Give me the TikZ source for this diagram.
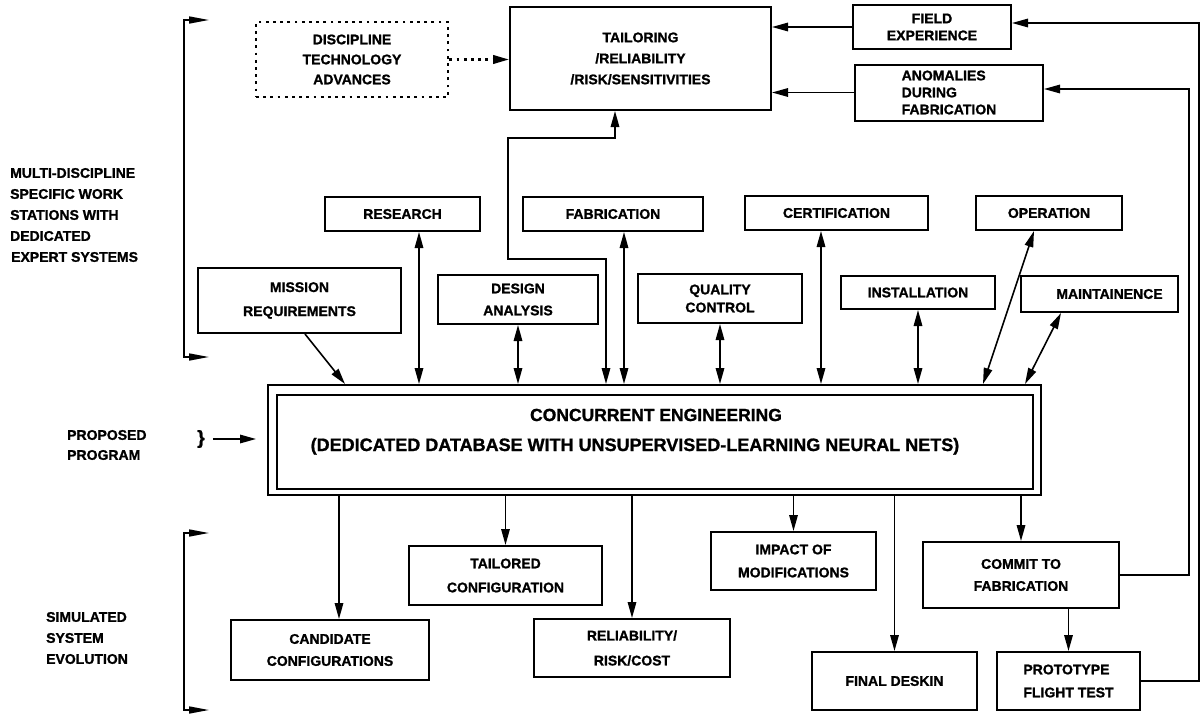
\documentclass[tikz,border=0pt]{standalone}
\usepackage{fontspec}
\setmainfont{Liberation Sans}[BoldFeatures={FakeBold=1.2}]
\usetikzlibrary{arrows.meta}

\tikzset{
  box/.style={draw, line width=2pt, align=center, inner sep=0pt,
    font=\bfseries\fontsize{14}{22}\selectfont},
  sz/.style 2 args={minimum width=#1pt, minimum height=#2pt},
  fs/.style={font=\bfseries\fontsize{14}{#1}\selectfont},
  lbl/.style={align=left, inner sep=0pt, font=\bfseries\fontsize{14}{21}\selectfont},
  cetext/.style={anchor=base, inner sep=0pt, font=\bfseries\fontsize{#1}{20}\selectfont},
  dotbox/.style={line width=2.8pt, dash pattern=on 2.8pt off 4.4pt},
  arr/.style={line width=1.6pt, -{Triangle[length=16pt,width=8.5pt]}},
  dbl/.style={line width=1.6pt, {Triangle[length=16pt,width=8.5pt]}-{Triangle[length=16pt,width=8.5pt]}},
  brk/.style={line width=1.6pt, {Triangle[length=20pt,width=7pt]}-{Triangle[length=20pt,width=7pt]}}
}

\begin{document}
\begin{tikzpicture}[x=1pt, y=-1pt]
  \useasboundingbox (0,0) rectangle (1202,715);

  % side labels and brackets
  \node[lbl, anchor=west] (multi) at (10,215) {MULTI-DISCIPLINE\\SPECIFIC WORK\\STATIONS WITH\\DEDICATED\\\hspace{1pt}EXPERT SYSTEMS};
  \node[lbl, anchor=west, fs=20] (prop) at (67,445) {PROPOSED\\PROGRAM};
  \node[lbl, anchor=west] (simul) at (46,638) {SIMULATED\\SYSTEM\\EVOLUTION};
  \node[inner sep=0pt, font=\bfseries\fontsize{19}{19}\selectfont] (brace) at (201,439) {\}};
  \coordinate (pin) at (256,439);
  \draw[arr] ([xshift=8pt]brace.east) -- (pin);
  \draw[brk] (209,20) -- (184,20) -- (184,357) -- (209,357);
  \draw[brk] (209,533) -- (184,533) -- (184,710) -- (209,710);

  % top boxes
  \node[box, dotbox, sz={192}{75}, fs=20] (disc) at (352,59.5) {DISCIPLINE\\TECHNOLOGY\\ADVANCES};
  \node[box, sz={261}{103}, fs=21] (tailor) at (640.5,58.5) {TAILORING\\/RELIABILITY\\/RISK/SENSITIVITIES};
  \node[box, sz={158}{44}, fs=17] (field) at (932,27) {FIELD\\EXPERIENCE};
  \node[box, sz={188}{56}, fs=17, align=left] (anomal) at (949,92.5) {ANOMALIES\\DURING\\FABRICATION};

  % work stations
  \node[box, sz={155}{34}] (research) at (402.5,214) {RESEARCH};
  \node[box, sz={180}{34}] (fabric) at (613,214) {FABRICATION};
  \node[box, sz={183}{34}] (certif) at (836.5,213) {CERTIFICATION};
  \node[box, sz={146}{34}] (operat) at (1049,213) {OPERATION};
  \node[box, sz={203}{65}, fs=24] (mission) at (299.5,300.5) {MISSION\\REQUIREMENTS};
  \node[box, sz={160}{49}] (design) at (518,299.5) {DESIGN\\ANALYSIS};
  \node[box, sz={164}{49}, fs=18] (quality) at (720,298.5) {QUALITY\\CONTROL};
  \node[box, sz={154}{33}] (install) at (918,292.5) {INSTALLATION};
  \node[box, sz={157}{36}] (maint) at (1099.5,294) {\hspace{20pt}MAINTAINENCE};

  % proposed program
  \node[box, sz={773}{110}] (ce) at (654.5,440) {};
  \draw[line width=2pt] ([shift={(10pt,-11pt)}]ce.north west) rectangle ([shift={(-9pt,7pt)}]ce.south east);
  \node[cetext=17.5] (cetitle) at (656,421) {CONCURRENT ENGINEERING};
  \node[cetext=18] (cesub) at (635,451) {(DEDICATED DATABASE WITH UNSUPERVISED-LEARNING NEURAL NETS)};

  % simulated evolution
  \node[box, sz={198}{60}] (candid) at (330,650) {CANDIDATE\\CONFIGURATIONS};
  \node[box, sz={193}{59}, fs=24] (tailcfg) at (505.5,575.5) {TAILORED\\CONFIGURATION};
  \node[box, sz={196}{58}, fs=25] (reliab) at (632,648) {RELIABILITY/\\RISK/COST};
  \node[box, sz={165}{58}, fs=23] (impact) at (793.5,561) {IMPACT OF\\MODIFICATIONS};
  \node[box, sz={196}{66}] (commit) at (1021,575) {COMMIT TO\\FABRICATION};
  \node[box, sz={165}{58}] (final) at (894.5,681) {FINAL DESKIN};
  \node[box, sz={143}{58}, fs=23, align=left] (proto) at (1068.5,681) {PROTOTYPE\\FLIGHT TEST};

  % feedback into tailoring
  \draw[arr, dotbox, line width=2.4pt] (disc.east) -- (disc.east -| tailor.west);
  \draw[arr] (field.west) -- (field.west -| tailor.east);
  \draw[arr] (anomal.west) -- (anomal.west -| tailor.east);
  \coordinate (fbk1) at (1199,23);
  \coordinate (fbk2) at (1189,89);
  \draw[arr] (proto.east) -| (fbk1) -- ([yshift=4pt]field.east);
  \draw[arr] (commit.east) -| (fbk2) -- ([yshift=3.5pt]anomal.east);
  \coordinate (jogA) at (508,259);
  \coordinate (jogB) at (615,138);
  \draw[dbl] ([xshift=-25.5pt]tailor.south) -- (jogB) -| (jogA) -| ([xshift=-48.5pt]ce.north);

  % stations to database
  \draw[arr] ([xshift=5.5pt]mission.south) -- ([xshift=78pt]ce.north west);
  \draw[dbl] ([xshift=16.5pt]research.south) -- ([xshift=16.5pt]research.south |- ce.north);
  \draw[dbl] (design.south) -- (design.south |- ce.north);
  \draw[dbl] ([xshift=11pt]fabric.south) -- ([xshift=11pt]fabric.south |- ce.north);
  \draw[dbl] (quality.south) -- (quality.south |- ce.north);
  \draw[dbl] ([xshift=-15.5pt]certif.south) -- ([xshift=-15.5pt]certif.south |- ce.north);
  \draw[dbl] (install.south) -- (install.south |- ce.north);
  \draw[dbl] ([xshift=-15pt]operat.south) -- ([xshift=-59pt]ce.north east);
  \draw[dbl] ([xshift=-38.5pt]maint.south) -- ([xshift=-17pt]ce.north east);

  % database to outputs
  \draw[arr] ([xshift=9pt]candid.north |- ce.south) -- ([xshift=9pt]candid.north);
  \draw[arr] (ce.south -| tailcfg.north) -- (tailcfg.north);
  \draw[arr] (ce.south -| reliab.north) -- (reliab.north);
  \draw[arr] (ce.south -| impact.north) -- (impact.north);
  \draw[arr] (ce.south -| final.north) -- (final.north);
  \draw[arr] (ce.south -| commit.north) -- (commit.north);
  \draw[arr] (commit.south -| proto.north) -- (proto.north);
\end{tikzpicture}
\end{document}
